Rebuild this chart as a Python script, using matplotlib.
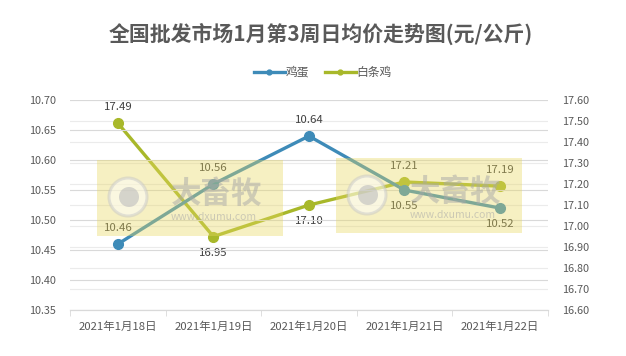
import matplotlib
matplotlib.use("Agg")
import matplotlib.pyplot as plt
from matplotlib.patches import Rectangle, Ellipse

plt.rcParams['font.family'] = ['Noto Sans CJK SC', 'DejaVu Sans']

# data
dates = ["2021年1月18日", "2021年1月19日", "2021年1月20日", "2021年1月21日", "2021年1月22日"]
egg = [10.46, 10.56, 10.64, 10.55, 10.52]
chicken = [17.49, 16.95, 17.10, 17.21, 17.19]
egg_label_pos = ["above", "above", "above", "below", "below"]
chicken_label_pos = ["above", "below", "below", "above", "above"]

EGG_C = "#3E8BB8"
CHK_C = "#A8B82A"
TXT_C = "#595959"
W, H = 626, 356

fig = plt.figure(figsize=(W / 100, H / 100), dpi=100)
ax = fig.add_axes([0.112, 0.129, 0.763, 0.590])
ax2 = ax.twinx()

x = list(range(len(dates)))

# left axis
ax.set_ylim(10.35, 10.70)
ax.set_yticks([10.35 + 0.05 * i for i in range(8)])
ax.set_yticklabels([f"{10.35 + 0.05 * i:.2f}" for i in range(8)])
ax.set_xlim(-0.5, len(dates) - 0.5)
ax.set_xticks(x)
ax.set_xticklabels(dates)
ax.set_xticks([i - 0.5 for i in range(len(dates) + 1)], minor=True)
ax.tick_params(axis="x", which="major", length=0, pad=8, labelsize=8.2, colors=TXT_C)
ax.tick_params(axis="x", which="minor", length=4, color="#D9D9D9")
ax.tick_params(axis="y", length=0, pad=10, labelsize=7.8, colors=TXT_C)
ax.grid(axis="y", color="#D9D9D9", lw=0.8)
ax.set_axisbelow(True)

# right axis
ax2.set_ylim(16.60, 17.60)
ax2.set_yticks([16.60 + 0.1 * i for i in range(11)])
ax2.set_yticklabels([f"{16.60 + 0.1 * i:.2f}" for i in range(11)])
ax2.tick_params(axis="y", length=0, pad=10, labelsize=7.8, colors=TXT_C)
ax2.grid(axis="y", color="#EBEBEB", lw=0.8)

for a in (ax, ax2):
    for s in ("top", "left", "right"):
        a.spines[s].set_visible(False)
    a.spines["bottom"].set_color("#D9D9D9")

ax2.plot(x, chicken, color=CHK_C, lw=2.4, marker="o", markersize=7, label="白条鸡", zorder=3)
ax.plot(x, egg, color=EGG_C, lw=2.4, marker="o", markersize=7, label="鸡蛋", zorder=3)
ax.set_zorder(ax2.get_zorder() + 1)
ax.patch.set_visible(False)

for xi, v, p in zip(x, egg, egg_label_pos):
    ax.annotate(f"{v:.2f}", (xi, v), xytext=(0, 8 if p == "above" else -8),
                textcoords="offset points", ha="center",
                va="bottom" if p == "above" else "top", fontsize=8.2, color="#404040")
for xi, v, p in zip(x, chicken, chicken_label_pos):
    ax2.annotate(f"{v:.2f}", (xi, v), xytext=(0, 8 if p == "above" else -8),
                 textcoords="offset points", ha="center",
                 va="bottom" if p == "above" else "top", fontsize=8.2, color="#404040")

fig.text(0.512, 0.905, "全国批发市场1月第3周日均价走势图(元/公斤)", ha="center", va="center",
         fontsize=15, fontweight="bold", color=TXT_C)

h1, l1 = ax.get_legend_handles_labels()
h2, l2 = ax2.get_legend_handles_labels()
fig.legend(h1 + h2, l1 + l2, loc="center", bbox_to_anchor=(0.516, 0.797), ncol=2,
           frameon=False, fontsize=8.5, labelcolor=TXT_C, handlelength=2.6,
           handletextpad=0.1, columnspacing=1.3, markerscale=0.5)

# watermark overlays (pixel boxes of the site stamp)
for (x0, y0, w, h) in [(97, 160, 186, 76), (336, 158, 186, 75)]:
    fig.add_artist(Rectangle((x0 / W, 1 - (y0 + h) / H), w / W, h / H,
                             facecolor="#E8D860", alpha=0.38, edgecolor="none", zorder=10))
    cx, cy, r = x0 + 31, y0 + 37, 19
    fig.add_artist(Ellipse((cx / W, 1 - cy / H), 2 * r / W, 2 * r / H, facecolor="#FFFFFF",
                           edgecolor="#C8C8C8", lw=2.2, alpha=0.5, zorder=11))
    fig.add_artist(Ellipse(((cx + 1) / W, 1 - cy / H), 20 / W, 20 / H, facecolor="#BDBDBD",
                           edgecolor="none", alpha=0.6, zorder=11))
    fig.text((x0 + 120) / W, 1 - (y0 + 34) / H, "大畜牧", fontsize=22, fontweight="bold",
             color="#A8A8A8", alpha=0.5, ha="center", va="center", zorder=11)
    fig.text((x0 + 117) / W, 1 - (y0 + 57) / H, "www.dxumu.com", fontsize=7.5,
             color="#A8A8A8", alpha=0.55, ha="center", va="center", zorder=11)

fig.savefig("out.png", dpi=100)
